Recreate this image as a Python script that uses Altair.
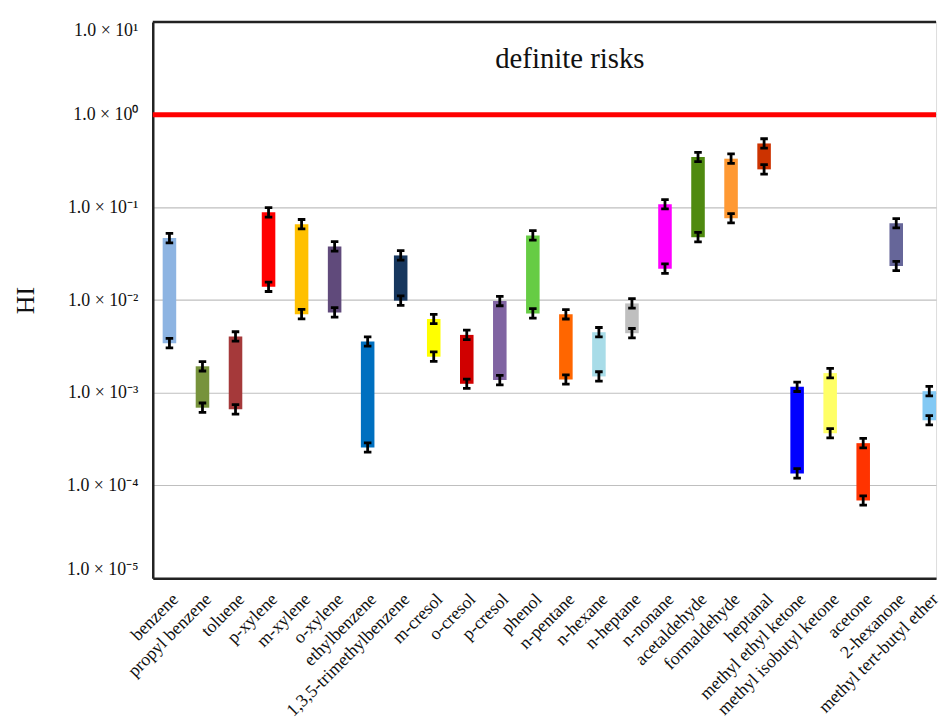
import json
import altair as alt
import pandas as pd

compounds = ["benzene", "propyl benzene", "toluene", "p-xylene", "m-xylene", "o-xylene",
             "ethylbenzene", "1,3,5-trimethylbenzene", "m-cresol", "o-cresol", "p-cresol",
             "phenol", "n-pentane", "n-hexane", "n-heptane", "n-nonane", "acetaldehyde",
             "formaldehyde", "heptanal", "methyl ethyl ketone", "methyl isobutyl ketone",
             "acetone", "2-hexanone", "methyl tert-butyl ether"]
hi_max = [0.0466, 0.00193, 0.00405, 0.0883, 0.0658, 0.0379, 0.00357, 0.0303, 0.00625,
          0.00421, 0.00976, 0.0498, 0.00702, 0.0045, 0.0092, 0.108, 0.349, 0.335, 0.489,
          0.00116, 0.00163, 0.000286, 0.0674, 0.00104]
hi_min = [0.00343, 0.00069, 0.000662, 0.0139, 0.00705, 0.00736, 0.000257, 0.00985, 0.00245,
          0.00125, 0.00137, 0.00718, 0.00139, 0.0015, 0.00439, 0.0218, 0.0477, 0.0763, 0.257,
          0.000135, 0.000366, 0.0000689, 0.0233, 0.000505]
colors = ["#8DB4E2", "#77933C", "#A5393A", "#FF0000", "#FFC000", "#604A7B", "#0070C0",
          "#17375E", "#FFFF00", "#D00000", "#8064A2", "#66CC44", "#FF6600", "#A8DCE8",
          "#BFBFBF", "#FF00FF", "#4F8A10", "#FF9933", "#CC3300", "#0000FF", "#FFFF66",
          "#FF3300", "#666699", "#83C9F4"]
y_tick_values = [10, 1, 0.1, 0.01, 0.001, 0.0001, 0.00001]
y_tick_labels = ["1.0 × 10¹", "1.0 × 10⁰", "1.0 × 10⁻¹", "1.0 × 10⁻²",
                 "1.0 × 10⁻³", "1.0 × 10⁻⁴", "1.0 × 10⁻⁵"]
threshold = 1.0
top_value = 10.0
annotation = "definite risks"
annotation_y = 4.0
annotation_x = "n-pentane"

df = pd.DataFrame({"compound": compounds, "lo": hi_min, "hi": hi_max})
one = pd.DataFrame({"k": [0]})

FONT = "Liberation Serif"
label_expr = json.dumps(y_tick_labels, ensure_ascii=False) + "[round(1 - log(datum.value)/LN10)]"

xscale = alt.Scale(domain=compounds, paddingInner=0.59, paddingOuter=0.15, align=1)
yscale = alt.Scale(type="log", domain=[1e-5, 10], nice=False)

x_enc = alt.X("compound:N", sort=compounds, scale=xscale,
              axis=alt.Axis(title=None, labelAngle=-45, labelFontSize=18, labelFont=FONT,
                            labelColor="#111", ticks=False, domainColor="#222",
                            domainWidth=2.5, labelPadding=12, grid=False))

bars = alt.Chart(df).mark_bar().encode(
    x=x_enc,
    y=alt.Y("lo:Q", scale=yscale,
            axis=alt.Axis(title="HI", values=y_tick_values, labelExpr=label_expr,
                          labelFontSize=18, labelFont=FONT, labelColor="#111",
                          labelFlush=True, labelPadding=15, ticks=False,
                          domainColor="#222", domainWidth=2.5,
                          gridColor="#BFBFBF", gridWidth=1.2,
                          titleFont=FONT, titleFontSize=26, titleFontWeight="normal",
                          titleColor="#111", titlePadding=28)),
    y2="hi:Q",
    color=alt.Color("compound:N", scale=alt.Scale(domain=compounds, range=colors), legend=None),
)

ishape = "M-0.8,-1H0.8M0,-1V1M-0.8,1H0.8"
cap_lo = alt.Chart(df).mark_point(shape=ishape, size=90, filled=False, color="black",
                                  strokeWidth=2.8, opacity=1).encode(
    x=alt.X("compound:N", sort=compounds, scale=xscale), y=alt.Y("lo:Q", scale=yscale))
cap_hi = alt.Chart(df).mark_point(shape=ishape, size=90, filled=False, color="black",
                                  strokeWidth=2.8, opacity=1).encode(
    x=alt.X("compound:N", sort=compounds, scale=xscale), y=alt.Y("hi:Q", scale=yscale))

red_line = alt.Chart(one).mark_rule(color="#FF0000", strokeWidth=5).encode(
    y=alt.datum(threshold, scale=yscale))
top_line = alt.Chart(one).mark_rule(color="#222", strokeWidth=2.5).encode(
    y=alt.datum(top_value, scale=yscale))

text = alt.Chart(one).mark_text(text=annotation, font=FONT, fontSize=29, color="#111",
                                baseline="middle", dx=4).encode(
    x=alt.datum(annotation_x, scale=xscale), y=alt.datum(annotation_y, scale=yscale))

chart = alt.layer(bars, cap_lo, cap_hi, red_line, top_line, text).properties(
    width=941, height=561,
    autosize=alt.AutoSizeParams(type="fit-x", contains="padding"),
    padding={"left": 5, "top": 9, "right": 0, "bottom": 0},
).configure_view(strokeWidth=0).configure(font=FONT)

chart.save("out.html", embed_options={"renderer": "svg", "actions": False})
